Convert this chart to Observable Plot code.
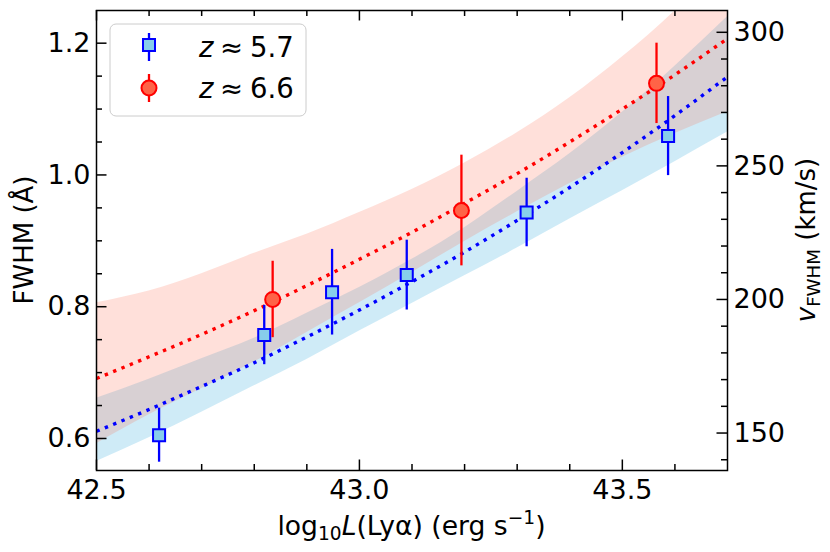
<!DOCTYPE html>
<html><head><meta charset="utf-8">
<script src="https://cdn.jsdelivr.net/npm/d3@7"></script>
<script src="https://cdn.jsdelivr.net/npm/@observablehq/plot@0.6"></script>
<style>body{margin:0;background:#fff} svg{display:block}</style>
</head><body><div id="chart"></div>
<script>
// Fitted relations and their confidence bands
const xGrid   = [42.5, 42.6, 42.7, 42.8, 42.9, 43.0, 43.1, 43.2, 43.3, 43.4, 43.5, 43.6, 43.7];
const redFit  = [0.691, 0.724, 0.758, 0.794, 0.832, 0.872, 0.913, 0.957, 1.002, 1.050, 1.100, 1.152, 1.207];
const redLo   = [0.592, 0.636, 0.676, 0.716, 0.761, 0.806, 0.852, 0.899, 0.944, 0.987, 1.027, 1.063, 1.096];
const redHi   = [0.806, 0.824, 0.850, 0.881, 0.910, 0.943, 0.978, 1.018, 1.064, 1.117, 1.179, 1.249, 1.330];
const blueFit = [0.611, 0.644, 0.679, 0.715, 0.754, 0.795, 0.838, 0.883, 0.931, 0.981, 1.034, 1.090, 1.149];
const blueLo  = [0.565, 0.601, 0.640, 0.680, 0.720, 0.763, 0.805, 0.847, 0.889, 0.933, 0.976, 1.020, 1.065];
const blueHi  = [0.661, 0.690, 0.721, 0.752, 0.790, 0.829, 0.872, 0.920, 0.975, 1.032, 1.095, 1.165, 1.240];

// Measurements
const blueX   = [42.619, 42.819, 42.948, 43.090, 43.318, 43.587];
const blueY   = [0.605, 0.757, 0.822, 0.848, 0.943, 1.059];
const blueErr = [0.041, 0.045, 0.065, 0.053, 0.052, 0.060];
const redX    = [42.835, 43.194, 43.565];
const redY    = [0.811, 0.946, 1.139];
const redErr  = [0.058, 0.084, 0.061];

// Ticks
const xMajor = [42.5, 43.0, 43.5];
const xMinor = [42.6, 42.7, 42.8, 42.9, 43.1, 43.2, 43.3, 43.4, 43.6];
const yMajor = [0.6, 0.8, 1.0, 1.2];
const yMinor = [0.65, 0.7, 0.75, 0.85, 0.9, 0.95, 1.05, 1.1, 1.15];
const vMajor = [150, 200, 250, 300];
const vMinor = [140, 160, 170, 180, 190, 210, 220, 230, 240, 260, 270, 280, 290];

// Legend
const legendLabels = ["5.7", "6.6"];

const W = 830, H = 552, mL = 96, mR = 103, mT = 10, mB = 82;
const iw = W - mL - mR, ih = H - mT - mB;
const K = 1215.67 / 299792.458; // FWHM (Å) per km/s

const grid = xGrid.map((x, i) => ({x, rFit: redFit[i], rLo: redLo[i], rHi: redHi[i], bFit: blueFit[i], bLo: blueLo[i], bHi: blueHi[i]}));
const blue = blueX.map((x, i) => ({x, y: blueY[i], e: blueErr[i]}));
const red = redX.map((x, i) => ({x, y: redY[i], e: redErr[i]}));

const tk = {stroke: "black", strokeWidth: 1.5};
const plot = Plot.plot({
  width: W, height: H,
  marginLeft: mL, marginRight: mR, marginTop: mT, marginBottom: mB,
  style: {fontFamily: "DejaVu Sans", fontSize: "27px", background: "white", color: "black"},
  x: {domain: [42.5, 43.7]},
  y: {domain: [0.5514, 1.2496]},
  marks: [
    Plot.areaY(grid, {x: "x", y1: "bLo", y2: "bHi", fill: "#87CEEB", fillOpacity: 0.4, curve: "natural", clip: true}),
    Plot.areaY(grid, {x: "x", y1: "rLo", y2: "rHi", fill: "#FF6347", fillOpacity: 0.2, curve: "natural", clip: true}),
    Plot.line(grid, {x: "x", y: "bFit", stroke: "blue", strokeWidth: 3.4, strokeDasharray: "3.4,5.6", strokeLinecap: "butt", curve: "natural", clip: true}),
    Plot.line(grid, {x: "x", y: "rFit", stroke: "red", strokeWidth: 3.4, strokeDasharray: "3.4,5.6", strokeLinecap: "butt", curve: "natural", clip: true}),
    Plot.ruleX(blue, {x: "x", y1: d => d.y - d.e, y2: d => d.y + d.e, stroke: "blue", strokeWidth: 2.3}),
    Plot.dot(blue, {x: "x", y: "y", symbol: "square", r: 6.8, fill: "#87CEEB", stroke: "blue", strokeWidth: 2}),
    Plot.ruleX(red, {x: "x", y1: d => d.y - d.e, y2: d => d.y + d.e, stroke: "red", strokeWidth: 2.3}),
    Plot.dot(red, {x: "x", y: "y", r: 7.5, fill: "tomato", stroke: "red", strokeWidth: 2}),
    // inward ticks
    Plot.tickX(xMinor, {x: d => d, insetTop: ih - 6, ...tk}),
    Plot.tickX(xMinor, {x: d => d, insetBottom: ih - 6, ...tk}),
    Plot.tickX(xMajor, {x: d => d, insetTop: ih - 10.5, ...tk}),
    Plot.tickX(xMajor, {x: d => d, insetBottom: ih - 10.5, ...tk}),
    Plot.tickY(yMinor, {y: d => d, insetRight: iw - 6, ...tk}),
    Plot.tickY(yMajor, {y: d => d, insetRight: iw - 10.5, ...tk}),
    Plot.tickY(vMinor, {y: d => d * K, insetLeft: iw - 6, ...tk}),
    Plot.tickY(vMajor, {y: d => d * K, insetLeft: iw - 10.5, ...tk}),
    Plot.axisX({ticks: xMajor, anchor: "bottom", tickSize: 0, tickPadding: 9, tickFormat: d => d.toFixed(1), label: null, fontSize: 27}),
    Plot.axisY({ticks: yMajor, anchor: "left", tickSize: 0, tickPadding: 6, tickFormat: d => d.toFixed(1), label: null, fontSize: 27}),
    Plot.axisY({ticks: vMajor.map(v => v * K), anchor: "right", tickSize: 0, tickPadding: 6, tickFormat: d => String(Math.round(d / K)), label: null, fontSize: 27}),
    Plot.frame({stroke: "black", strokeWidth: 1.5})
  ]
});
document.getElementById("chart").appendChild(plot);

const svg = d3.select(plot);
const F = "DejaVu Sans";
// x label
const xl = svg.append("text").attr("x", mL + iw / 2).attr("y", 535).attr("text-anchor", "middle")
  .attr("font-family", F).attr("font-size", 26.6).attr("fill", "black");
xl.append("tspan").text("log");
xl.append("tspan").attr("font-size", 18.6).attr("dy", 5).text("10");
xl.append("tspan").attr("dy", -5).attr("font-style", "italic").text("L");
xl.append("tspan").text("(Lyα) (erg s");
xl.append("tspan").attr("font-size", 18.6).attr("dy", -11).text("−1");
xl.append("tspan").attr("dy", 11).text(")");
// left y label
svg.append("text").attr("transform", "translate(33,240) rotate(-90)").attr("text-anchor", "middle")
  .attr("font-family", F).attr("font-size", 26).attr("fill", "black").text("FWHM (Å)");
// right y label
const rl = svg.append("text").attr("transform", "translate(815,240) rotate(-90)").attr("text-anchor", "middle")
  .attr("font-family", F).attr("font-size", 26).attr("fill", "black");
rl.append("tspan").attr("font-style", "italic").text("v");
rl.append("tspan").attr("font-size", 18.2).attr("dy", 5).text("FWHM");
rl.append("tspan").attr("dy", -5).text(" (km/s)");

// legend
const lg = svg.append("g");
lg.append("rect").attr("x", 110).attr("y", 24).attr("width", 196).attr("height", 92).attr("rx", 6)
  .attr("fill", "white").attr("fill-opacity", 0.8).attr("stroke", "#cccccc").attr("stroke-width", 1);
lg.append("line").attr("x1", 149).attr("x2", 149).attr("y1", 33).attr("y2", 61).attr("stroke", "blue").attr("stroke-width", 2.3);
lg.append("rect").attr("x", 143).attr("y", 39).attr("width", 12).attr("height", 12).attr("fill", "#87CEEB").attr("stroke", "blue").attr("stroke-width", 2);
lg.append("line").attr("x1", 149).attr("x2", 149).attr("y1", 74).attr("y2", 102).attr("stroke", "red").attr("stroke-width", 2.3);
lg.append("circle").attr("cx", 149).attr("cy", 88).attr("r", 7.5).attr("fill", "tomato").attr("stroke", "red").attr("stroke-width", 2);
legendLabels.forEach((t, i) => {
  const y = [56.5, 98.3][i];
  const tx = lg.append("text").attr("y", y).attr("text-anchor", "start")
    .attr("font-family", F).attr("font-size", 27.5).attr("fill", "black");
  tx.append("tspan").attr("x", 199).attr("font-style", "italic").text("z");
  tx.append("tspan").attr("x", 220).text("≈");
  tx.append("tspan").attr("x", 250).text(t);
});
</script></body></html>
